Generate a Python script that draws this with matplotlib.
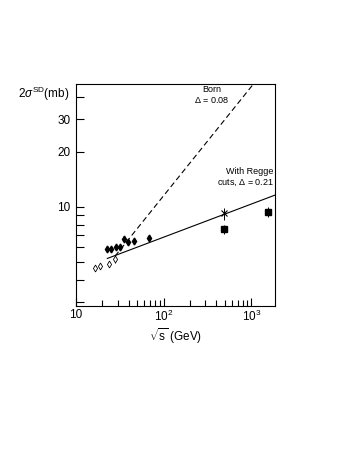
import numpy as np
import matplotlib.pyplot as plt
from matplotlib.ticker import FixedLocator, NullFormatter, FixedFormatter

plt.rcParams['font.family'] = ['Liberation Sans', 'DejaVu Sans']
plt.rcParams['mathtext.fontset'] = 'custom'
plt.rcParams['mathtext.rm'] = 'Liberation Sans'
plt.rcParams['mathtext.it'] = 'Liberation Sans:italic'
plt.rcParams['mathtext.sf'] = 'Liberation Sans'

# open diamonds
open_x = [16.4, 18.9, 24.2, 27.8]
open_y = [4.64, 4.74, 4.84, 5.16]
open_err = [0.15, 0.15, 0.15, 0.2]

# filled diamonds
fill_x = [22.9, 25.1, 29.0, 31.7, 35.5, 39.1, 46.5, 67.8]
fill_y = [5.87, 5.87, 6.00, 6.03, 6.65, 6.44, 6.52, 6.71]
fill_err = [0.2, 0.2, 0.2, 0.2, 0.25, 0.25, 0.2, 0.2]

# squares
sq_x = [489, 1549]
sq_y = [7.53, 9.39]
sq_err = [0.45, 0.6]

# cross
cr_x = [485]
cr_y = [9.2]
cr_err = [0.7]

# model curves (endpoints)
born_x = [28, 1054]
born_y = [5.37, 46.8]
regge_x = [22.9, 1875]
regge_y = [5.22, 11.6]

fig = plt.figure(figsize=(3.53, 4.57), dpi=100)
ax = fig.add_axes([0.2145, 0.331, 0.5655, 0.485])
ax.set_xscale('log')
ax.set_yscale('log')
ax.set_xlim(10, 1875)
ax.set_ylim(2.88, 46.8)

ax.plot(born_x, born_y, color='black', lw=0.8, ls=(0, (5, 3)))
ax.plot(regge_x, regge_y, color='black', lw=0.8)

ax.errorbar(open_x, open_y, yerr=open_err, fmt='d', ms=3.5, mfc='white',
            mec='black', mew=0.6, ecolor='black', elinewidth=0.6, capsize=0)
ax.errorbar(fill_x, fill_y, yerr=fill_err, fmt='d', ms=3.5, color='black',
            elinewidth=0.7, capsize=0)
ax.errorbar(sq_x, sq_y, yerr=sq_err, fmt='s', ms=5, color='black',
            elinewidth=0.7, capsize=0)
ax.errorbar(cr_x, cr_y, yerr=cr_err, fmt='x', ms=4, color='black', mew=0.8,
            elinewidth=0.7, capsize=0)

ax.text(356, 40.8, 'Born\n$\\Delta$ = 0.08', ha='center', va='center',
        fontsize=6.5, multialignment='center')
ax.text(1790, 14.4, 'With Regge\ncuts, $\\Delta$ = 0.21', ha='right',
        va='center', fontsize=6.5, multialignment='right')

ax.xaxis.set_major_locator(FixedLocator([10, 100, 1000]))
ax.xaxis.set_major_formatter(FixedFormatter(['10', '$10^2$', '$10^3$']))
ax.xaxis.set_minor_locator(FixedLocator([20, 30, 40, 50, 60, 70, 80, 90,
                                         200, 300, 400, 500, 600, 700, 800, 900]))
ax.xaxis.set_minor_formatter(NullFormatter())
ax.yaxis.set_major_locator(FixedLocator([10, 20, 30]))
ax.yaxis.set_major_formatter(FixedFormatter(['10', '20', '30']))
ax.yaxis.set_minor_locator(FixedLocator([3, 4, 5, 6, 7, 8, 9, 40]))
ax.yaxis.set_minor_formatter(NullFormatter())

ax.tick_params(which='both', direction='in', top=False, right=False,
               labelsize=8.5, width=0.8)
ax.tick_params(which='major', length=6, pad=4)
ax.tick_params(axis='x', which='major', pad=2.5)
ax.tick_params(which='minor', length=4.5)
ax.tick_params(axis='y', which='minor', length=5.5)
for s in ax.spines.values():
    s.set_linewidth(0.8)

fig.text(0.198, 1 - 94 / 457, '2$\\sigma^{\\rm SD}$(mb)', ha='right',
         va='center', fontsize=8.5)
fig.text(0.497, 1 - 336 / 457, '$\\sqrt{\\rm s}$ (GeV)', ha='center',
         va='center', fontsize=8.5)

fig.savefig('out.png', dpi=100)
